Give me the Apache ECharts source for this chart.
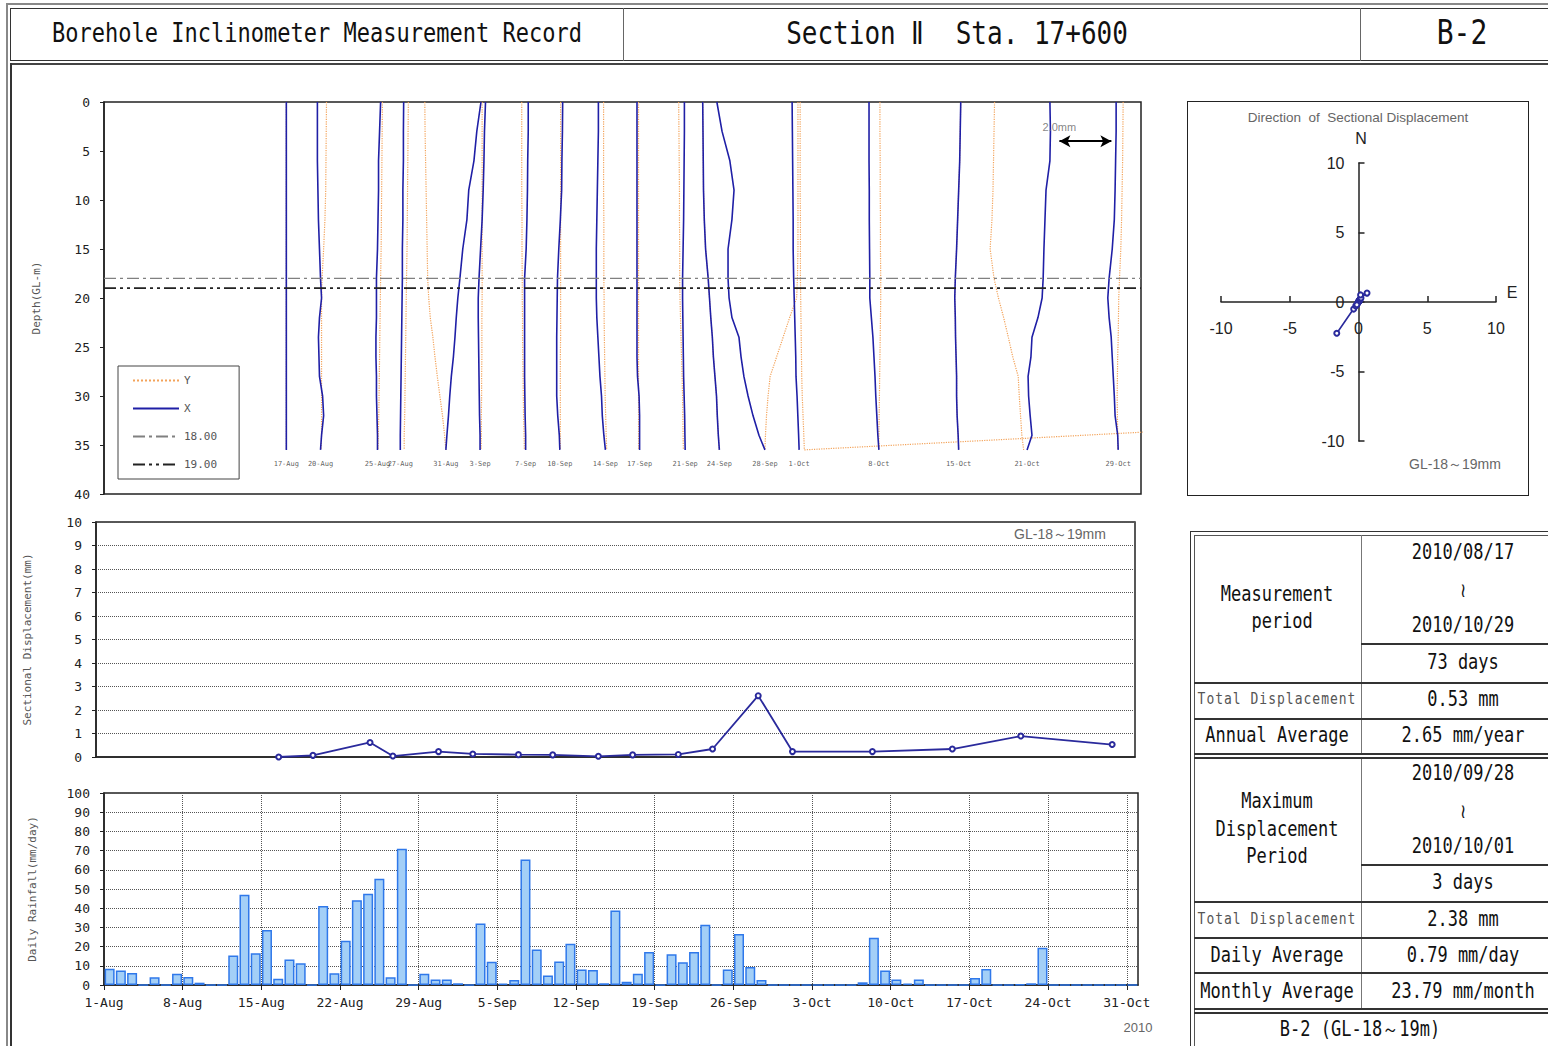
<!DOCTYPE html>
<html><head><meta charset="utf-8">
<script src="https://cdn.jsdelivr.net/npm/echarts@6/dist/echarts.min.js"></script>
<style>
body{margin:0;background:#fff;}
#wrap{position:relative;width:1548px;height:1046px;overflow:hidden;background:#fff;font-family:"DejaVu Sans Mono",monospace;color:#111;}
#chart{position:absolute;left:0;top:0;width:1548px;height:1046px;}
.ln{position:absolute;background:#333;}
.c{position:absolute;white-space:pre;transform:translate(-50%,-50%) scaleY(1.2);line-height:1;text-align:center;}
.s{position:absolute;white-space:pre;transform:translate(-50%,-50%);line-height:1;font-family:"Liberation Sans",Arial,sans-serif;color:#666;}
.box{position:absolute;border:1.5px solid #333;box-sizing:border-box;}
</style></head>
<body>
<div id="wrap">
<div id="chart"></div>

<!-- page frame -->
<div class="ln" style="left:6px;top:3px;width:1542px;height:2px;background:#888"></div>
<div class="ln" style="left:6px;top:3px;width:2px;height:1043px;background:#888"></div>
<div class="box" style="left:10px;top:8px;width:1545px;height:53px"></div>
<div class="ln" style="left:623px;top:8px;width:1px;height:53px;background:#666"></div>
<div class="ln" style="left:1360px;top:8px;width:1px;height:53px;background:#666"></div>
<div class="ln" style="left:10px;top:63px;width:1538px;height:2px;background:#444"></div>
<div class="ln" style="left:10px;top:63px;width:1.5px;height:983px"></div>

<div class="c" style="left:317px;top:34px;font-size:22px">Borehole Inclinometer Measurement Record</div>
<div class="c" style="left:957px;top:33px;font-size:26px">Section Ⅱ  Sta. 17+600</div>
<div class="c" style="left:1462px;top:33px;font-size:28px">B-2</div>

<!-- direction box -->
<div class="box" style="left:1187px;top:101px;width:342px;height:395px;border-color:#222"></div>
<div class="s" style="left:1358px;top:118px;font-size:13.5px">Direction  of  Sectional Displacement</div>
<div class="s" style="left:1361px;top:139px;font-size:16px;color:#222">N</div>
<div class="s" style="left:1512px;top:293px;font-size:16px;color:#222">E</div>
<div class="s" style="left:1455px;top:464px;font-size:14px">GL-18～19mm</div>

<div class="s" style="left:1060px;top:534px;font-size:14px">GL-18～19mm</div>
<div class="s" style="left:1138px;top:1027px;font-size:13px">2010</div>

<!-- table -->
<div class="box" style="left:1190px;top:531px;width:380px;height:530px"></div>
<div class="box" style="left:1194px;top:535px;width:370px;height:520px;border-width:1px;border-color:#555"></div>
<div class="ln" style="left:1361px;top:535px;width:1px;height:218px;background:#777"></div>
<div class="ln" style="left:1361px;top:757px;width:1px;height:251px;background:#777"></div>
<div class="ln" style="left:1361px;top:643px;width:187px;height:1.5px"></div>
<div class="ln" style="left:1194px;top:682px;width:354px;height:1.5px"></div>
<div class="ln" style="left:1194px;top:718px;width:354px;height:1.5px"></div>
<div class="ln" style="left:1194px;top:753px;width:354px;height:1.5px"></div>
<div class="ln" style="left:1194px;top:757px;width:354px;height:1.5px"></div>
<div class="ln" style="left:1361px;top:864px;width:187px;height:1.5px"></div>
<div class="ln" style="left:1194px;top:901px;width:354px;height:1.5px"></div>
<div class="ln" style="left:1194px;top:937px;width:354px;height:1.5px"></div>
<div class="ln" style="left:1194px;top:972px;width:354px;height:1.5px"></div>
<div class="ln" style="left:1194px;top:1008px;width:354px;height:1.5px"></div>
<div class="ln" style="left:1194px;top:1012px;width:354px;height:1.5px"></div>

<div class="c" style="left:1277px;top:608px;font-size:17px;line-height:23px">Measurement
 period</div>
<div class="c" style="left:1463px;top:552px;font-size:17px">2010/08/17</div>
<div class="c" style="left:1463px;top:590px;font-size:17px">≀</div>
<div class="c" style="left:1463px;top:625px;font-size:17px">2010/10/29</div>
<div class="c" style="left:1463px;top:662px;font-size:17px">73 days</div>
<div class="c" style="left:1277px;top:699px;font-size:13px;color:#555;letter-spacing:1px">Total Displacement</div>
<div class="c" style="left:1463px;top:699px;font-size:17px">0.53 mm</div>
<div class="c" style="left:1277px;top:735px;font-size:17px">Annual Average</div>
<div class="c" style="left:1463px;top:735px;font-size:17px">2.65 mm/year</div>
<div class="c" style="left:1277px;top:829px;font-size:17px;line-height:23px">Maximum
Displacement
Period</div>
<div class="c" style="left:1463px;top:773px;font-size:17px">2010/09/28</div>
<div class="c" style="left:1463px;top:811px;font-size:17px">≀</div>
<div class="c" style="left:1463px;top:846px;font-size:17px">2010/10/01</div>
<div class="c" style="left:1463px;top:882px;font-size:17px">3 days</div>
<div class="c" style="left:1277px;top:919px;font-size:13px;color:#555;letter-spacing:1px">Total Displacement</div>
<div class="c" style="left:1463px;top:919px;font-size:17px">2.38 mm</div>
<div class="c" style="left:1277px;top:955px;font-size:17px">Daily Average</div>
<div class="c" style="left:1463px;top:955px;font-size:17px">0.79 mm/day</div>
<div class="c" style="left:1277px;top:991px;font-size:17px">Monthly Average</div>
<div class="c" style="left:1463px;top:991px;font-size:17px">23.79 mm/month</div>
<div class="c" style="left:1360px;top:1029px;font-size:17px">B-2 (GL-18～19m)</div>
</div>

<script>
// ---------------- DATA ----------------
const measDates = ['17-Aug','20-Aug','25-Aug','27-Aug','31-Aug','3-Sep','7-Sep','10-Sep','14-Sep','17-Sep','21-Sep','24-Sep','28-Sep','1-Oct','8-Oct','15-Oct','21-Oct','29-Oct'];
const measDay = [16,19,24,26,30,33,37,40,44,47,51,54,58,61,68,75,81,89]; // days since 1-Aug
const depthPts = [0,3,6,9,12,15,18,20,22,24,26,28,30,32,34,35.5];

// X-direction cumulative displacement (mm) relative to the fixed bottom
const xProfiles = [
 [0,0,0,0,0,0,0,0,0,0,0,0,0,0,0,0],
 [-0.12,-0.12,-0.12,-0.10,-0.08,-0.04,0,0.04,-0.04,-0.08,-0.06,-0.04,0.08,0.12,0.04,0],
 [0.12,0.08,0.04,0.04,0.02,0,-0.04,-0.04,-0.04,-0.06,-0.06,-0.04,-0.04,-0.02,0,0],
 [0.13,0.12,0.12,0.10,0.10,0.08,0.08,0.07,0.06,0.05,0.04,0.03,0.02,0.01,0,0],
 [1.35,1.19,1.08,0.88,0.81,0.65,0.54,0.46,0.40,0.35,0.29,0.21,0.15,0.10,0.04,0],
 [0.21,0.17,0.15,0.12,0.08,0.02,-0.04,-0.07,-0.07,-0.06,-0.05,-0.04,-0.03,-0.02,0,0],
 [0.10,0.10,0.08,0.07,0.05,0.02,-0.04,-0.04,-0.04,-0.04,-0.04,-0.04,-0.03,-0.02,0,0],
 [0.11,0.10,0.08,0.07,0.02,-0.04,-0.09,-0.10,-0.11,-0.12,-0.12,-0.12,-0.12,-0.08,-0.02,0],
 [-0.27,-0.27,-0.29,-0.31,-0.33,-0.35,-0.35,-0.35,-0.33,-0.29,-0.25,-0.21,-0.15,-0.12,-0.06,0],
 [-0.10,-0.10,-0.10,-0.10,-0.10,-0.10,-0.10,-0.10,-0.10,-0.10,-0.10,-0.08,-0.02,0,0,0],
 [-0.03,-0.03,-0.04,-0.05,-0.06,-0.08,-0.10,-0.10,-0.09,-0.08,-0.07,-0.06,-0.04,-0.02,-0.01,0],
 [-0.64,-0.63,-0.62,-0.61,-0.58,-0.53,-0.43,-0.38,-0.33,-0.27,-0.23,-0.17,-0.11,-0.08,-0.04,0],
 [-1.85,-1.65,-1.35,-1.19,-1.27,-1.42,-1.42,-1.38,-1.27,-1.00,-0.92,-0.81,-0.65,-0.46,-0.23,0],
 [-0.27,-0.26,-0.25,-0.24,-0.23,-0.23,-0.21,-0.19,-0.17,-0.15,-0.13,-0.12,-0.08,-0.05,-0.02,0],
 [-0.38,-0.38,-0.38,-0.37,-0.37,-0.36,-0.35,-0.35,-0.29,-0.23,-0.19,-0.15,-0.12,-0.08,-0.04,0],
 [0.08,0.06,0.04,0,-0.04,-0.08,-0.13,-0.15,-0.13,-0.12,-0.10,-0.08,-0.08,-0.06,-0.02,0],
 [0.88,0.90,0.88,0.73,0.69,0.65,0.62,0.58,0.42,0.19,0.15,0.04,0.06,0.12,0.19,0],
 [-0.08,-0.08,-0.10,-0.12,-0.15,-0.23,-0.35,-0.40,-0.35,-0.27,-0.23,-0.19,-0.15,-0.12,-0.02,0]
];
// Y-direction cumulative displacement (mm)
const yProfiles = [
 [0,0,0,0,0,0,0,0,0,0,0,0,0,0,0,0],
 [0.23,0.22,0.21,0.20,0.17,0.12,0.06,0.04,0.04,0.04,0.04,0.04,0.04,0.04,0.04,0.02],
 [0.19,0.18,0.17,0.16,0.15,0.14,0.12,0.11,0.10,0.09,0.08,0.07,0.06,0.05,0.03,0.02],
 [0.31,0.30,0.29,0.28,0.27,0.26,0.24,0.23,0.22,0.21,0.20,0.19,0.18,0.17,0.15,0.15],
 [-0.81,-0.80,-0.78,-0.76,-0.74,-0.72,-0.70,-0.66,-0.60,-0.50,-0.42,-0.33,-0.23,-0.13,-0.05,0],
 [0.08,0.08,0.08,0.08,0.08,0.08,0.08,0.08,0.07,0.07,0.07,0.06,0.06,0.05,0.05,0.04],
 [-0.15,-0.15,-0.15,-0.15,-0.14,-0.14,-0.13,-0.13,-0.12,-0.12,-0.11,-0.10,-0.09,-0.08,-0.06,-0.05],
 [0.03,0.03,0.03,0.03,0.03,0.03,0.03,0.03,0.03,0.03,0.02,0.02,0.02,0.02,0.02,0.02],
 [-0.07,-0.07,-0.07,-0.07,-0.06,-0.06,-0.06,-0.05,-0.05,-0.04,-0.03,-0.02,-0.01,0.01,0.03,0.05],
 [-0.04,-0.04,-0.04,-0.04,-0.04,-0.04,-0.04,-0.04,-0.04,-0.04,-0.04,-0.04,-0.04,-0.04,-0.04,-0.04],
 [-0.25,-0.24,-0.23,-0.22,-0.22,-0.21,-0.21,-0.20,-0.18,-0.16,-0.14,-0.12,-0.10,-0.09,-0.08,-0.07],
 [-0.64,-0.63,-0.62,-0.61,-0.58,-0.53,-0.43,-0.38,-0.33,-0.27,-0.23,-0.17,-0.11,-0.08,-0.04,0],
 [1.27,1.27,1.27,1.27,1.27,1.27,1.25,1.22,0.95,0.70,0.45,0.20,0.12,0.06,0.02,0],
 [0.04,0.04,0.04,0.04,0.05,0.05,0.05,0.06,0.07,0.08,0.09,0.10,0.12,0.15,0.18,0.20],
 [0.04,0.04,0.05,0.05,0.06,0.06,0.07,0.07,0.06,0.05,0.04,0.03,0.02,0.01,0,0],
 [0.08,0.06,0.04,0,-0.04,-0.08,-0.13,-0.15,-0.13,-0.12,-0.10,-0.08,-0.08,-0.06,-0.02,0],
 [-1.25,-1.27,-1.29,-1.31,-1.35,-1.42,-1.27,-1.10,-0.90,-0.72,-0.55,-0.34,-0.30,-0.25,-0.20,-0.13],
 [0.19,0.18,0.17,0.15,0.13,0.10,0.05,0.02,0.01,0,-0.02,-0.03,-0.04,-0.03,-0.02,-0.02]
];
// stray last reading of the 1-Oct Y profile: [mm, depth]
const yStrayPoint = {profile: 13, value: [18.2, 33.0]};

const secDisp = [0,0.07,0.62,0.04,0.23,0.13,0.10,0.09,0.03,0.09,0.11,0.34,2.61,0.23,0.23,0.34,0.89,0.53];
const dirE = [0,0.03,-0.35,0.02,0.12,0.05,0.04,-0.05,0.02,-0.05,0.06,-0.20,-1.58,0.12,-0.12,0.18,0.62,0.15];
const dirN = [0,0.06,-0.51,0.03,0.20,0.12,0.09,-0.08,0.03,-0.08,0.09,-0.28,-2.25,0.20,-0.20,0.29,0.64,0.51];

// daily rainfall 1-Aug .. 31-Oct (92 days)
const rain = [
 8.5,7.5,6.2,0,4.0,0,5.9,4.2,1.2,0,0,15.4,47,16.5,28.6,3.3,13.3,11.3,0,41.2,6.1,23,44.2,47.5,55.3,4.0,71,0,5.9,2.8,2.8,
 0.9,0,32,12.1,0.7,2.6,65.3,18.5,5,12.3,21.5,8.1,7.8,0.9,38.8,1.7,5.9,17.2,0,16,11.8,17.2,31.4,0,8.1,26.5,9.4,2.6,0,
 0,0,0,0,0,0,0,1.4,24.6,7.6,2.9,0.7,2.9,0,0,0,0,3.6,8.3,0,0,0.3,0.9,19.4,0,0,0,0,0,0,0,0
];
const rainTickLabels = ['1-Aug','8-Aug','15-Aug','22-Aug','29-Aug','5-Sep','12-Sep','19-Sep','26-Sep','3-Oct','10-Oct','17-Oct','24-Oct','31-Oct'];
const depthLines = [{name:'18.00', depth:18}, {name:'19.00', depth:19}];
const scaleBarMM = 2.0;

// ---------------- CHART ----------------
const MONO = '"DejaVu Sans Mono", monospace';
const SANS = '"Liberation Sans", Arial, sans-serif';
const MM_TO_DAY = 26 / 11.4;   // displacement scale of the profile plot
const BLUE = '#1f1fa6';
const ORANGE = '#f3a35a';

const series = [];
measDay.forEach((day, i) => {
  const yd = depthPts.map((d, k) => [day + yProfiles[i][k] * MM_TO_DAY, d]);
  if (yStrayPoint.profile === i) yd.push([day + yStrayPoint.value[0] * MM_TO_DAY, yStrayPoint.value[1]]);
  series.push({type:'line', name:'Y', xAxisIndex:0, yAxisIndex:0, data: yd, symbol:'none', silent:true, z:1,
    itemStyle:{color:ORANGE}, lineStyle:{color:ORANGE, width:1.2, type:'dotted'}});
});
measDay.forEach((day, i) => {
  series.push({type:'line', name:'X', xAxisIndex:0, yAxisIndex:0, symbol:'none', silent:true, z:3,
    data: depthPts.map((d, k) => [day + xProfiles[i][k] * MM_TO_DAY, d]),
    itemStyle:{color:BLUE}, lineStyle:{color:BLUE, width:1.6}});
});
series.push({type:'line', name:depthLines[0].name, xAxisIndex:0, yAxisIndex:0, symbol:'none', silent:true, z:4,
  itemStyle:{color:'#808080'},
  data:[[0, depthLines[0].depth],[91, depthLines[0].depth]], lineStyle:{color:'#808080', width:1.4, type:[12,4,3,4]}});
series.push({type:'line', name:depthLines[1].name, xAxisIndex:0, yAxisIndex:0, symbol:'none', silent:true, z:4,
  itemStyle:{color:'#222'},
  data:[[0, depthLines[1].depth],[91, depthLines[1].depth]], lineStyle:{color:'#222', width:1.8, type:[12,4,3,4,3,4]}});

const arrowEnd = 88.4, arrowStart = arrowEnd - scaleBarMM * MM_TO_DAY;
series.push({type:'scatter', xAxisIndex:0, yAxisIndex:0, silent:true, symbolSize:1, z:5,
  itemStyle:{color:'rgba(0,0,0,0)'},
  data: measDay.map((d, i) => ({name: measDates[i], value:[d, 36.9]})),
  label:{show:true, position:'inside', formatter:'{b}', fontSize:7, color:'#333', fontFamily:MONO},
  markLine:{silent:true, symbol:['arrow','arrow'], symbolSize:[9,11], animation:false,
    lineStyle:{color:'#000', width:2.2, type:'solid'}, label:{show:false},
    data:[[{coord:[arrowStart, 4.0]},{coord:[arrowEnd, 4.0]}]]}
});
series.push({type:'scatter', xAxisIndex:0, yAxisIndex:0, silent:true, symbolSize:1, z:5,
  itemStyle:{color:'rgba(0,0,0,0)'},
  data:[{name: scaleBarMM.toFixed(1) + 'mm', value:[arrowStart, 2.5]}],
  label:{show:true, position:'inside', formatter:'{b}', fontSize:11, color:'#666', fontFamily:SANS}});

series.push({type:'line', xAxisIndex:1, yAxisIndex:1, silent:true, z:3,
  data: measDay.map((d, i) => [d, secDisp[i]]), symbol:'emptyCircle', symbolSize:5,
  lineStyle:{color:'#2a2a9c', width:1.8}, itemStyle:{color:'#2a2a9c', borderWidth:1.3}});

series.push({type:'bar', xAxisIndex:2, yAxisIndex:2, silent:true, barWidth:10,
  data: rain.map((v, i) => [i + 0.5, v]),
  itemStyle:{color:'#a3cff7', borderColor:'#2f78ea', borderWidth:1.5}});

series.push({type:'line', xAxisIndex:3, yAxisIndex:3, silent:true, z:3,
  data: dirE.map((e, i) => [e, dirN[i]]), symbol:'emptyCircle', symbolSize:5,
  lineStyle:{color:'#2a2a9c', width:1.6}, itemStyle:{color:'#2a2a9c', borderWidth:1.3}});

const axLine = {lineStyle:{color:'#222', width:1.5}};
const lblMono = (m) => ({margin:m, fontSize:13, color:'#222', fontFamily:MONO});
const nameStyle = {fontSize:11, color:'#555', fontFamily:MONO};
const DIR_W = 275, DIR_H = 278;

const option = {
  animation:false,
  backgroundColor:'transparent',
  grid:[
    {left:104, top:102, width:1037, height:392, show:true, borderColor:'#222', borderWidth:1.5},
    {left:96, top:522, width:1039, height:235, show:true, borderColor:'#222', borderWidth:1.5},
    {left:104, top:793, width:1034, height:192, show:true, borderColor:'#222', borderWidth:1.5},
    {left:1221, top:163, width:DIR_W, height:DIR_H}
  ],
  legend:{data:['Y','X','18.00','19.00'], orient:'vertical', left:118, top:366, itemWidth:46, itemHeight:12, itemGap:17,
    padding:[9,22,9,14], borderColor:'#444', borderWidth:1, backgroundColor:'#fff', selectedMode:false,
    itemStyle:{color:'rgba(0,0,0,0)', borderColor:'rgba(0,0,0,0)', borderWidth:0, opacity:0},
    textStyle:{fontSize:11, color:'#555', fontFamily:MONO}},
  xAxis:[
    {gridIndex:0, type:'value', min:0, max:91, show:false},
    {gridIndex:1, type:'value', min:0, max:91, axisLabel:{show:false}, axisTick:{show:false}, splitLine:{show:false}, axisLine:axLine},
    {gridIndex:2, type:'value', min:0, max:92, interval:7, axisLine:axLine,
      axisTick:{length:5, lineStyle:{color:'#222'}},
      axisLabel:{margin:11, fontSize:13, color:'#222', fontFamily:MONO, showMaxLabel:false,
        formatter:(v) => rainTickLabels[v / 7] || ''},
      splitLine:{show:true, lineStyle:{type:'dotted', color:'#555', width:1}}},
    {gridIndex:3, type:'value', min:-10, max:10, interval:5, position:'bottom', offset:-DIR_H / 2,
      axisLine:{onZero:false, lineStyle:{color:'#222', width:1.5}},
      axisTick:{inside:true, length:6, lineStyle:{color:'#222', width:1.5}},
      axisLabel:{margin:18, fontSize:16, color:'#222', fontFamily:SANS}, splitLine:{show:false}}
  ],
  yAxis:[
    {gridIndex:0, type:'value', min:0, max:40, interval:5, inverse:true, axisLine:{show:true, lineStyle:{color:'#222', width:1.5}},
      axisTick:{show:true, length:4, lineStyle:{color:'#222'}}, axisLabel:lblMono(14), splitLine:{show:false},
      name:'Depth(GL-m)', nameLocation:'middle', nameGap:62, nameTextStyle:nameStyle},
    {gridIndex:1, type:'value', min:0, max:10, interval:1, axisLine:{show:true, lineStyle:{color:'#222', width:1.5}},
      axisTick:{show:true, length:4, lineStyle:{color:'#222'}}, axisLabel:lblMono(14),
      splitLine:{show:true, lineStyle:{type:'dotted', color:'#555', width:1}},
      name:'Sectional Displacement(mm)', nameLocation:'middle', nameGap:63, nameTextStyle:nameStyle},
    {gridIndex:2, type:'value', min:0, max:100, interval:10, axisLine:{show:true, lineStyle:{color:'#222', width:1.5}},
      axisTick:{show:true, length:4, lineStyle:{color:'#222'}}, axisLabel:lblMono(14),
      splitLine:{show:true, lineStyle:{type:'dotted', color:'#555', width:1}},
      name:'Daily Rainfall(mm/day)', nameLocation:'middle', nameGap:66, nameTextStyle:nameStyle},
    {gridIndex:3, type:'value', min:-10, max:10, interval:5, position:'left', offset:-DIR_W / 2,
      axisLine:{onZero:false, lineStyle:{color:'#222', width:1.5}},
      axisTick:{inside:true, length:6, lineStyle:{color:'#222', width:1.5}},
      axisLabel:{margin:14, fontSize:16, color:'#222', fontFamily:SANS}, splitLine:{show:false}}
  ],
  series: series
};

const chart = echarts.init(document.getElementById('chart'), null, {renderer:'svg', width:1548, height:1046});
chart.setOption(option);
</script>
</body></html>
